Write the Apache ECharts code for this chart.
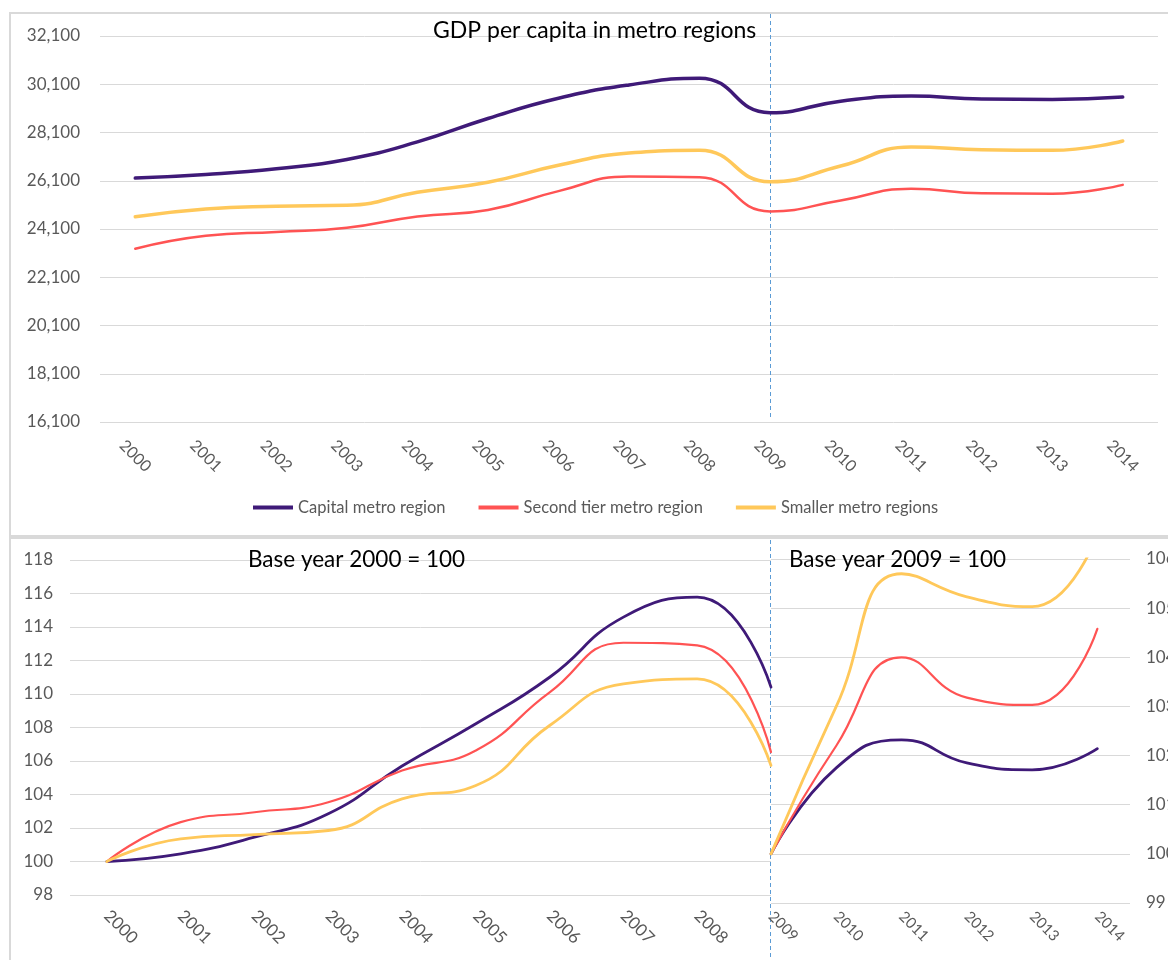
<!DOCTYPE html>
<html><head><meta charset="utf-8">
<script src="https://cdn.jsdelivr.net/npm/echarts@6/dist/echarts.min.js"></script>
<style>html,body{margin:0;padding:0;background:#fff}#c{width:1168px;height:960px}</style>
</head><body><div id="c"></div>
<script>
// ---- data ----
const years = ['2000','2001','2002','2003','2004','2005','2006','2007','2008','2009','2010','2011','2012','2013','2014'];
const capital = [26210, 26360, 26600, 26980, 27710, 28680, 29520, 30070, 30350, 28920, 29400, 29610, 29490, 29470, 29570];
const secondTier = [23280, 23820, 23980, 24150, 24620, 24890, 25670, 26280, 26250, 24830, 25280, 25770, 25580, 25560, 25930];
const smaller = [24610, 24930, 25040, 25080, 25620, 26040, 26740, 27250, 27360, 26060, 26710, 27500, 27390, 27360, 27750];

const yearsBase2000 = [2000, 2001, 2002, 2003, 2004, 2005, 2006, 2007, 2008, 2009];
const capIdx2000 = [100, 100.46, 101.45, 102.85, 105.7, 108.22, 111.0, 114.59, 115.78, 110.41];
const secIdx2000 = [100, 102.35, 102.94, 103.54, 105.43, 106.63, 110.1, 113.06, 112.9, 106.53];
const smlIdx2000 = [100, 101.35, 101.61, 101.85, 103.74, 104.54, 108.12, 110.61, 110.9, 105.73];

const yearsBase2009 = [2009, 2010, 2011, 2012, 2013, 2014];
const capIdx2009 = [100, 101.75, 102.32, 101.85, 101.71, 102.14];
const secIdx2009 = [100, 102.2, 104.0, 103.18, 103.03, 104.58];
const smlIdx2009 = [100, 103.0, 105.7, 105.23, 105.03, 106.5];

const seriesNames = ['Capital metro region', 'Second tier metro region', 'Smaller metro regions'];
const titles = ['GDP per capita in metro regions', 'Base year 2000 = 100', 'Base year 2009 = 100'];
const topAxis = {min: 16100, max: 32100, step: 2000};
const leftAxis = {min: 98, max: 118, step: 2};
const rightAxis = {min: 99, max: 106, step: 1};

// ---- styles ----
const colors = ['#3f1a78', '#ff5353', '#ffc85a'];
const FONT = 'Lato, "Open Sans", sans-serif';
const grey = '#595959';
const gridLine = {show: true, lineStyle: {color: '#d9d9d9', width: 1}};

const pairs = (xs, ys) => xs.map((x, i) => [x, ys[i]]);

function lineSeries(name, data, xi, yi, color, width) {
  return {
    name, type: 'line', data, xAxisIndex: xi, yAxisIndex: yi,
    smooth: 0.5, symbol: 'none', clip: true,
    lineStyle: {color, width, cap: 'round'}, itemStyle: {color},
    emphasis: {disabled: true}
  };
}

const chart = echarts.init(document.getElementById('c'), null, {renderer: 'canvas'});
const titleStyle = {fontFamily: FONT, fontWeight: 'normal', color: '#000'};
const option = {
  backgroundColor: '#fff',
  animation: false,
  textStyle: {fontFamily: FONT},
  title: [
    {text: titles[0], left: 433, top: 19, padding: 0, textStyle: Object.assign({fontSize: 23}, titleStyle)},
    {text: titles[1], left: 248, top: 548, padding: 0, textStyle: Object.assign({fontSize: 22.5}, titleStyle)},
    {text: titles[2], left: 789, top: 548, padding: 0, textStyle: Object.assign({fontSize: 22.5}, titleStyle)}
  ],
  legend: {
    data: seriesNames, left: 253, top: 499, padding: 0, icon: 'rect', itemWidth: 40, itemHeight: 4, itemGap: 33,
    textStyle: {fontFamily: FONT, fontSize: 16.5, color: grey}
  },
  grid: [
    {left: 100, width: 1058, top: 36, height: 386, outerBoundsMode: 'none', containLabel: false},
    {left: 70, width: 701, top: 560, height: 335, outerBoundsMode: 'none', containLabel: false},
    {left: 771, width: 359, top: 559, height: 344, outerBoundsMode: 'none', containLabel: false}
  ],
  xAxis: [
    {type: 'category', gridIndex: 0, data: years, boundaryGap: true,
     axisLine: {show: false}, axisTick: {show: false}, splitLine: {show: false},
     axisLabel: {rotate: -45, align: 'center', verticalAlign: 'middle', margin: 34, fontSize: 16, color: grey, fontFamily: FONT, interval: 0}},
    {type: 'value', gridIndex: 1, min: 1999.5, max: 2009,
     axisLine: {show: false}, axisTick: {show: false}, splitLine: {show: false},
     axisLabel: {customValues: yearsBase2000.slice(0, 9), formatter: v => String(v), rotate: -45, align: 'left', verticalAlign: 'middle', margin: 18, fontSize: 17, color: grey, fontFamily: FONT}},
    {type: 'value', gridIndex: 2, min: 2009, max: 2014.5,
     axisLine: {show: false}, axisTick: {show: false}, splitLine: {show: false},
     axisLabel: {customValues: yearsBase2009, formatter: v => String(v), rotate: -45, align: 'left', verticalAlign: 'middle', margin: 11, fontSize: 15, color: grey, fontFamily: FONT}}
  ],
  yAxis: [
    {type: 'value', gridIndex: 0, min: topAxis.min, max: topAxis.max, interval: topAxis.step,
     axisLine: {show: false}, axisTick: {show: false}, splitLine: gridLine,
     axisLabel: {margin: 20, fontSize: 17, color: grey, fontFamily: FONT, formatter: v => Number(v).toLocaleString('en-US')}},
    {type: 'value', gridIndex: 1, min: leftAxis.min, max: leftAxis.max, interval: leftAxis.step,
     axisLine: {show: false}, axisTick: {show: false}, splitLine: gridLine,
     axisLabel: {margin: 17, fontSize: 17, color: grey, fontFamily: FONT}},
    {type: 'value', gridIndex: 2, position: 'right', min: rightAxis.min, max: rightAxis.max, interval: rightAxis.step,
     axisLine: {show: false}, axisTick: {show: false}, splitLine: gridLine,
     axisLabel: {margin: 16, fontSize: 17, color: grey, fontFamily: FONT}}
  ],
  series: [
    lineSeries(seriesNames[0], capital, 0, 0, colors[0], 3.5),
    lineSeries(seriesNames[1], secondTier, 0, 0, colors[1], 2.5),
    lineSeries(seriesNames[2], smaller, 0, 0, colors[2], 3.5),
    lineSeries(seriesNames[0], pairs(yearsBase2000, capIdx2000), 1, 1, colors[0], 2.8),
    lineSeries(seriesNames[1], pairs(yearsBase2000, secIdx2000), 1, 1, colors[1], 2.2),
    lineSeries(seriesNames[2], pairs(yearsBase2000, smlIdx2000), 1, 1, colors[2], 2.8),
    lineSeries(seriesNames[0], pairs(yearsBase2009, capIdx2009), 2, 2, colors[0], 2.8),
    lineSeries(seriesNames[1], pairs(yearsBase2009, secIdx2009), 2, 2, colors[1], 2.2),
    lineSeries(seriesNames[2], pairs(yearsBase2009, smlIdx2009), 2, 2, colors[2], 2.8)
  ]
};
chart.setOption(option);

// separator at the 2009 category, derived from the axis scale
const sepX = Math.round(chart.convertToPixel({xAxisIndex: 0}, '2009')) + 0.5;
const dash = {stroke: '#5b9bd5', lineWidth: 1, lineDash: [4, 3]};
chart.setOption({
  graphic: [
    {type: 'rect', shape: {x: 10, y: 13, width: 1170, height: 523}, style: {fill: 'none', stroke: '#d9d9d9', lineWidth: 2}, silent: true, z: -1},
    {type: 'rect', shape: {x: 10, y: 538, width: 1170, height: 440}, style: {fill: 'none', stroke: '#d9d9d9', lineWidth: 2}, silent: true, z: -1},
    {type: 'line', shape: {x1: sepX, y1: 14, x2: sepX, y2: 420}, style: dash, silent: true},
    {type: 'line', shape: {x1: sepX, y1: 540, x2: sepX, y2: 960}, style: dash, silent: true}
  ]
});
</script>
</body></html>
